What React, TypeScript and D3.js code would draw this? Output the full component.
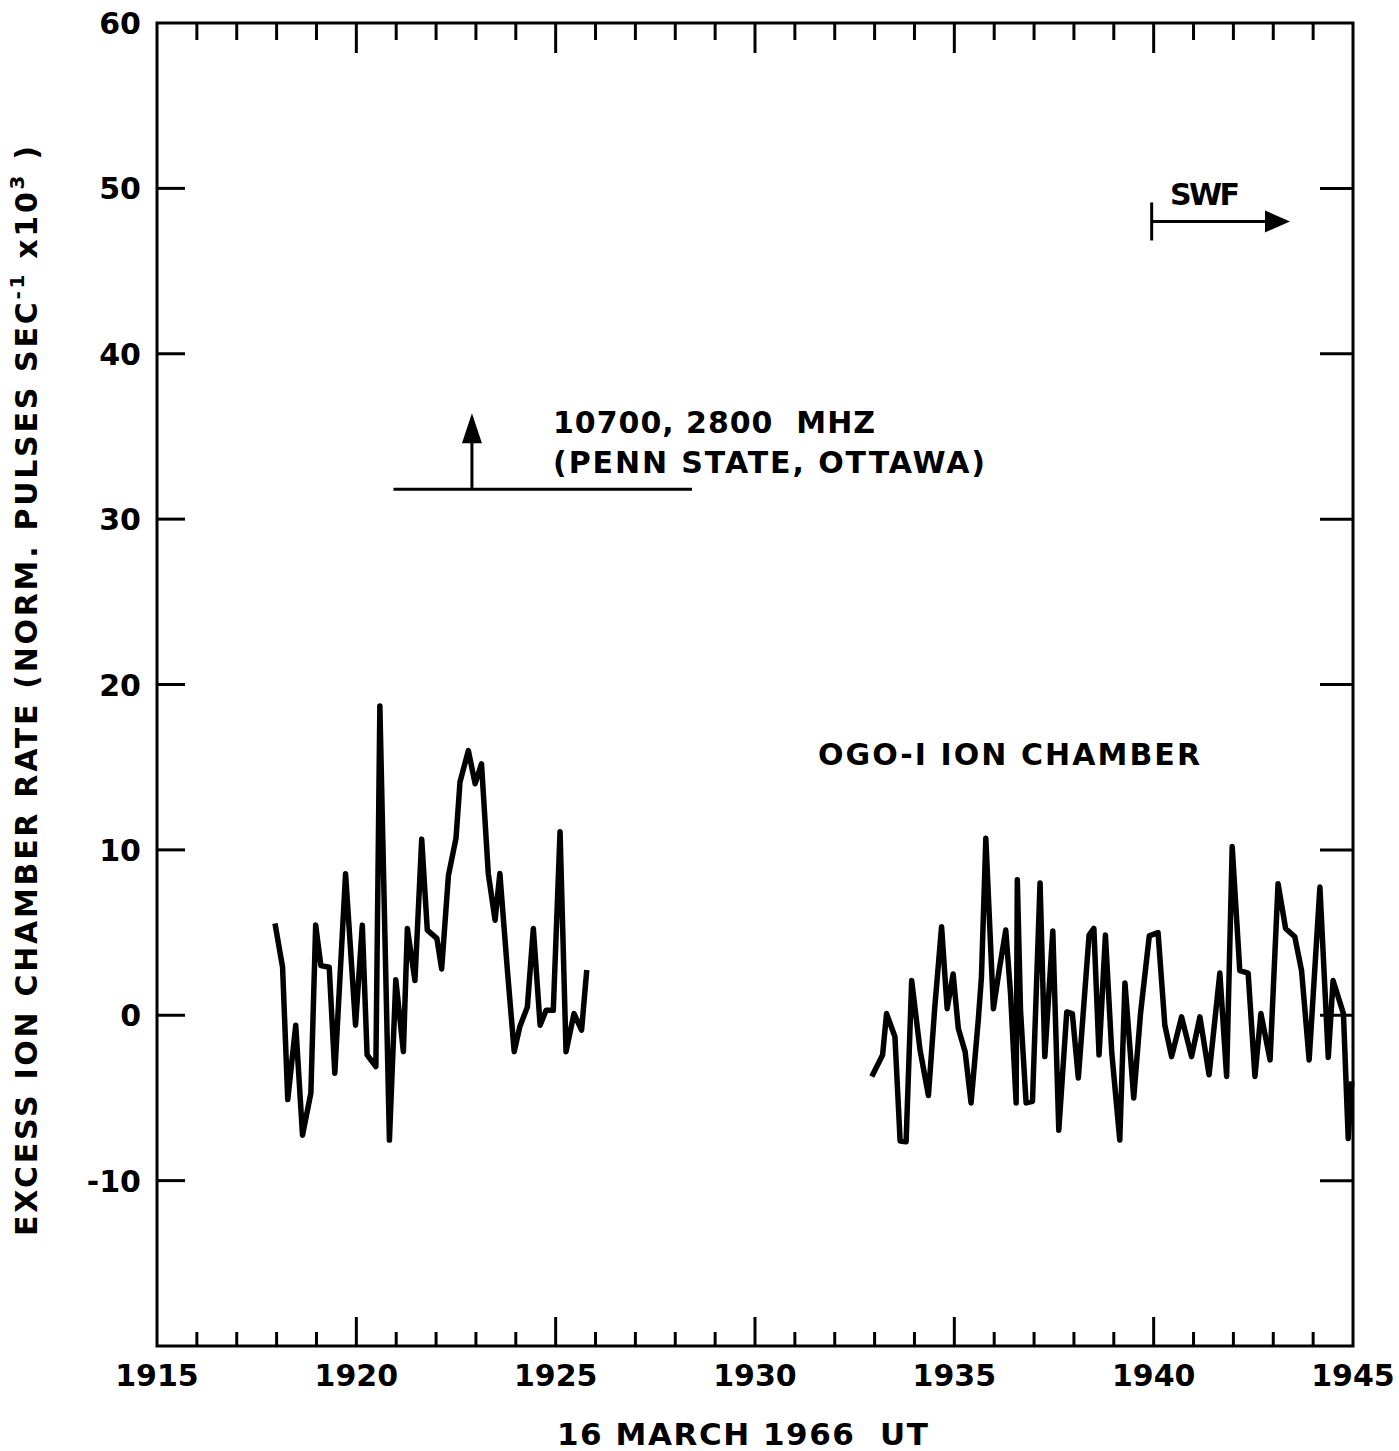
import React from "react";
import * as d3 from "d3";

// ---- Data ----
// Segment 1: time in UT (hhmm + fractional minutes), excess rate
const minutes1 = [
  1917.96, 1918.15, 1918.28, 1918.48, 1918.65, 1918.86, 1918.98, 1919.11, 1919.32, 1919.46,
  1919.73, 1919.98, 1920.15, 1920.27, 1920.49, 1920.59, 1920.83, 1920.99, 1921.18, 1921.28,
  1921.47, 1921.64, 1921.78, 1922.02, 1922.14, 1922.31, 1922.5, 1922.6, 1922.81, 1922.98,
  1923.14, 1923.31, 1923.48, 1923.6, 1923.79, 1923.96, 1924.1, 1924.29, 1924.44, 1924.61,
  1924.76, 1924.94, 1925.11, 1925.26, 1925.46, 1925.65, 1925.78,
];
const rate1 = [
  5.55, 2.9, -5.1, -0.6, -7.25, -4.7, 5.45, 3.0, 2.9, -3.5,
  8.55, -0.6, 5.45, -2.4, -3.1, 18.7, -7.55, 2.15, -2.2, 5.25,
  2.1, 10.65, 5.15, 4.65, 2.8, 8.45, 10.7, 14.1, 16.0, 14.0,
  15.2, 8.57, 5.75, 8.57, 2.7, -2.2, -0.7, 0.5, 5.25, -0.6,
  0.3, 0.3, 11.1, -2.2, 0.1, -0.9, 2.73,
];
// Segment 2
const minutes2 = [
  1932.93, 1933.2, 1933.3, 1933.51, 1933.64, 1933.79, 1933.93, 1934.14, 1934.35, 1934.51,
  1934.68, 1934.82, 1934.97, 1935.1, 1935.27, 1935.42, 1935.6, 1935.68, 1935.79, 1935.98,
  1936.13, 1936.29, 1936.41, 1936.55, 1936.58, 1936.66, 1936.8, 1936.96, 1937.15, 1937.27,
  1937.47, 1937.62, 1937.82, 1937.96, 1938.11, 1938.38, 1938.5, 1938.63, 1938.79, 1938.95,
  1939.15, 1939.28, 1939.5, 1939.67, 1939.89, 1940.11, 1940.28, 1940.45, 1940.7, 1940.95,
  1941.16, 1941.39, 1941.66, 1941.83, 1941.97, 1942.16, 1942.37, 1942.54, 1942.69, 1942.92,
  1943.12, 1943.31, 1943.54, 1943.71, 1943.9, 1944.17, 1944.38, 1944.5, 1944.76, 1944.88,
  1944.97,
];
const rate2 = [
  -3.7, -2.4, 0.1, -1.3, -7.6, -7.65, 2.1, -2.1, -4.85, 0.5,
  5.35, 0.4, 2.5, -0.8, -2.2, -5.3, -0.3, 2.3, 10.7, 0.4,
  2.8, 5.15, 1.3, -5.3, 8.2, 0.3, -5.3, -5.2, 8.0, -2.5,
  5.1, -6.95, 0.2, 0.1, -3.8, 4.85, 5.25, -2.4, 4.85, -2.3,
  -7.55, 1.95, -5.0, 0.1, 4.8, 5.0, -0.6, -2.5, -0.1, -2.5,
  -0.1, -3.6, 2.55, -3.7, 10.2, 2.7, 2.55, -3.7, 0.1, -2.7,
  7.95, 5.25, 4.75, 2.7, -2.7, 7.75, -2.55, 2.1, 0.1, -7.45,
  -4.0,
];

const xTickLabels = [1915, 1920, 1925, 1930, 1935, 1940, 1945];
const yTickLabels = [60, 50, 40, 30, 20, 10, 0, -10];
const yTicks = [-10, 0, 10, 20, 30, 40, 50];

// annotations (data coordinates)
const flareTime = 1922.9;
const flareBase = 31.8;
const flareTop = 36.4;
const flareLineStart = 1920.93;
const flareLineEnd = 1928.42;
const swfStart = 1939.95;
const swfEnd = 1943.42;
const swfLevel = 48.0;

const FONT = "'DejaVu Sans', sans-serif";

export default function App() {
  const x = d3.scaleLinear().domain([1915, 1945]).range([157, 1353]);
  const y = d3.scaleLinear().domain([-20, 60]).range([1346, 23]);
  const [x0, x1] = x.range();
  const [yb, yt] = y.range();

  const line = d3
    .line<[number, number]>()
    .x((d) => x(d[0]))
    .y((d) => y(d[1]));
  const seg1 = minutes1.map((m, i) => [m, rate1[i]] as [number, number]);
  const seg2 = minutes2.map((m, i) => [m, rate2[i]] as [number, number]);

  const minuteTicks = d3.range(1916, 1945);

  const textStyle: React.CSSProperties = { whiteSpace: "pre" };

  const fx = x(flareTime);
  const fBase = y(flareBase);
  const fTop = y(flareTop);
  const sx0 = x(swfStart);
  const sx1 = x(swfEnd);
  const sy = y(swfLevel);

  return (
    <svg
      width={1399}
      height={1451}
      style={{ position: "absolute", left: 0, top: 0, background: "#fff" }}
      fontFamily={FONT}
    >
      <rect x={0} y={0} width={1399} height={1451} fill="#fff" />
      {/* frame */}
      <rect x={x0} y={yt} width={x1 - x0} height={yb - yt} fill="none" stroke="#000" strokeWidth={3} />

      {/* top and bottom minute ticks */}
      {minuteTicks.map((m) => {
        const major = m % 5 === 0;
        return (
          <g key={m}>
            <line x1={x(m)} x2={x(m)} y1={yt} y2={yt + (major ? 30 : 17)} stroke="#000" strokeWidth={3} />
            <line x1={x(m)} x2={x(m)} y1={yb} y2={yb - (major ? 29 : 14)} stroke="#000" strokeWidth={3} />
          </g>
        );
      })}

      {/* left / right ticks */}
      {yTicks.map((v) => (
        <g key={v}>
          <line x1={x0} x2={x0 + 28} y1={y(v)} y2={y(v)} stroke="#000" strokeWidth={3} />
          <line x1={x1} x2={x1 - 33} y1={y(v)} y2={y(v)} stroke="#000" strokeWidth={3} />
        </g>
      ))}

      {/* y tick labels */}
      {yTickLabels.map((v) => (
        <text key={v} x={141} y={y(v) + 11} textAnchor="end" fontSize={30} fontWeight="bold">
          {v}
        </text>
      ))}

      {/* x tick labels */}
      {xTickLabels.map((v) => (
        <text key={v} x={x(v)} y={1386} textAnchor="middle" fontSize={30} fontWeight="bold">
          {v}
        </text>
      ))}

      {/* x axis title */}
      <text x={557} y={1445} fontSize={31} fontWeight="bold" textLength={371} lengthAdjust="spacing" style={textStyle}>
        {"16 MARCH 1966  UT"}
      </text>

      {/* y axis title */}
      <text
        transform="translate(37,691) rotate(-90)"
        textAnchor="middle"
        fontSize={30}
        fontWeight="bold"
        textLength={1090}
        lengthAdjust="spacing"
        style={textStyle}
      >
        {"EXCESS ION CHAMBER RATE (NORM. PULSES SEC"}
        <tspan fontSize={20} dy={-13}>{"-1"}</tspan>
        <tspan dy={13}>{" x10"}</tspan>
        <tspan fontSize={20} dy={-13}>{"3"}</tspan>
        <tspan dy={13}>{" )"}</tspan>
      </text>

      {/* data */}
      <path d={line(seg1) || ""} fill="none" stroke="#000" strokeWidth={5.5} strokeLinejoin="round" />
      <path d={line(seg2) || ""} fill="none" stroke="#000" strokeWidth={5.5} strokeLinejoin="round" />

      {/* flare annotation */}
      <line x1={x(flareLineStart)} x2={x(flareLineEnd)} y1={fBase} y2={fBase} stroke="#000" strokeWidth={3} />
      <line x1={fx} x2={fx} y1={fBase} y2={fTop + 20} stroke="#000" strokeWidth={3} />
      <path d={`M${fx},${fTop} L${fx - 10},${fTop + 30} L${fx + 10},${fTop + 30} Z`} fill="#000" />
      <text x={553} y={433} fontSize={30} fontWeight="bold" textLength={322} lengthAdjust="spacing" style={textStyle}>
        {"10700, 2800  MHZ"}
      </text>
      <text x={553} y={473} fontSize={30} fontWeight="bold" textLength={432} lengthAdjust="spacing" style={textStyle}>
        {"(PENN STATE, OTTAWA)"}
      </text>

      {/* SWF annotation */}
      <line x1={sx0} x2={sx0} y1={sy - 19} y2={sy + 19} stroke="#000" strokeWidth={3} />
      <line x1={sx0} x2={sx1 - 20} y1={sy} y2={sy} stroke="#000" strokeWidth={3} />
      <path d={`M${sx1},${sy} L${sx1 - 25},${sy - 11} L${sx1 - 25},${sy + 11} Z`} fill="#000" />
      <text x={1170} y={205} fontSize={30} fontWeight="bold" textLength={70} lengthAdjust="spacing">
        SWF
      </text>

      {/* series label */}
      <text x={818} y={765} fontSize={30} fontWeight="bold" textLength={382} lengthAdjust="spacing" style={textStyle}>
        {"OGO-I ION CHAMBER"}
      </text>
    </svg>
  );
}
